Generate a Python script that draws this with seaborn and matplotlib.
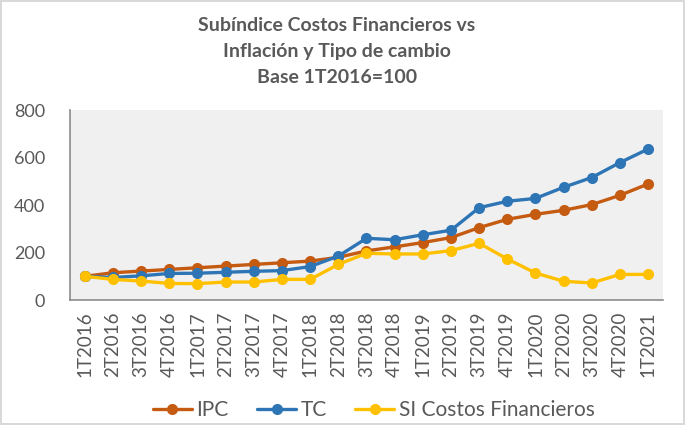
import seaborn as sns
import matplotlib.pyplot as plt
import pandas as pd

periodos = ['1T2016', '2T2016', '3T2016', '4T2016', '1T2017', '2T2017', '3T2017',
            '4T2017', '1T2018', '2T2018', '3T2018', '4T2018', '1T2019', '2T2019',
            '3T2019', '4T2019', '1T2020', '2T2020', '3T2020', '4T2020', '1T2021']
ipc = [100, 115, 122, 129, 136, 143, 150, 157, 164, 180, 207, 224, 242, 263,
       305, 340, 361, 378, 402, 441, 489]
tc = [100, 95, 102, 112, 113, 117, 121, 124, 141, 185, 260, 254, 275, 294,
      389, 416, 428, 475, 516, 579, 636]
si_costos = [100, 87, 80, 70, 69, 76, 76, 87, 87, 150, 197, 194, 194, 208,
             239, 173, 114, 79, 72, 108, 108]

series = ['IPC', 'TC', 'SI Costos Financieros']
colores = ['#C55A11', '#2E75B6', '#FFC000']

df = pd.DataFrame({'periodo': periodos, 'IPC': ipc, 'TC': tc,
                   'SI Costos Financieros': si_costos})
df_long = df.melt(id_vars='periodo', var_name='serie', value_name='valor')

sns.set_style('white')
plt.rcParams['font.family'] = ['Lato', 'DejaVu Sans']

fig = plt.figure(figsize=(6.85, 4.25), dpi=100)
fig.patch.set_edgecolor('#D9D9D9')
fig.patch.set_linewidth(1.5)
ax = fig.add_axes([0.102, 0.294, 0.866, 0.447])
ax.set_facecolor('#F0F0F0')

sns.lineplot(data=df_long, x='periodo', y='valor', hue='serie', hue_order=series,
             palette=colores, marker='o', markersize=8, markeredgewidth=0,
             linewidth=2.4, sort=False, ax=ax)

ax.set_xlim(-0.53, len(periodos) - 0.47)
ax.set_ylim(0, 800)
ax.set_yticks([0, 200, 400, 600, 800])
ax.tick_params(axis='y', labelsize=13, colors='#595959', length=0, pad=18)
ax.tick_params(axis='x', labelsize=13.5, colors='#595959', length=0, rotation=90, pad=8)
ax.set_xlabel('')
ax.set_ylabel('')
for lado in ['top', 'right']:
    ax.spines[lado].set_visible(False)
for lado in ['left', 'bottom']:
    ax.spines[lado].set_color('#8C8C8C')
    ax.spines[lado].set_linewidth(1.2)

fig.text(0.492, 0.96, 'Subíndice Costos Financieros vs\nInflación y Tipo de cambio\nBase 1T2016=100',
         ha='center', va='top', fontsize=14, fontweight='bold', color='#595959',
         linespacing=1.65)

leg = ax.legend(loc='center', bbox_to_anchor=(0.512, -0.58), ncol=3, frameon=False,
                fontsize=15, handlelength=1.9, columnspacing=1.35, handletextpad=0.2)
for texto in leg.get_texts():
    texto.set_color('#595959')

fig.savefig('out.png', dpi=100)
